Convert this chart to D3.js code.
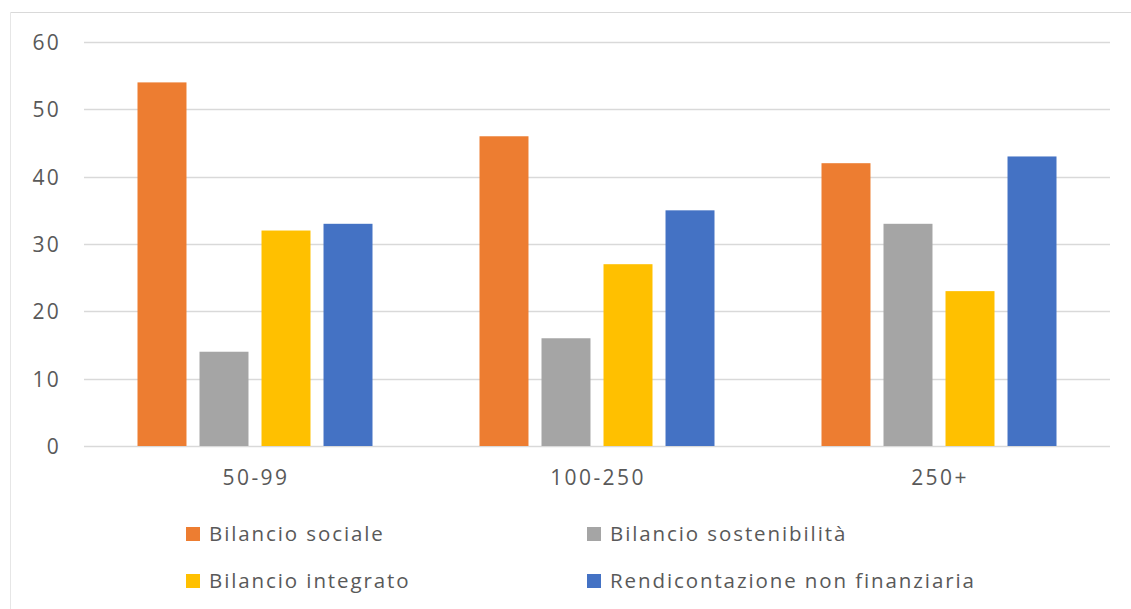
<!DOCTYPE html>
<html>
<head>
<meta charset="utf-8">
<script src="https://cdn.jsdelivr.net/npm/d3@7"></script>
<style>
  html, body { margin: 0; padding: 0; background: #fff; }
  svg { display: block; font-family: "Open Sans", "Noto Sans", sans-serif; }
</style>
</head>
<body>
<svg id="chart" width="1131" height="609"></svg>
<script>
// Company size classes (employees)
const categories = ["50-99", "100-250", "250+"];
const seriesNames = ["Bilancio sociale", "Bilancio sostenibilità", "Bilancio integrato", "Rendicontazione non finanziaria"];
const bilancioSociale = [54, 46, 42];
const bilancioSostenibilita = [14, 16, 33];
const bilancioIntegrato = [32, 27, 23];
const rendicontazioneNonFinanziaria = [33, 35, 43];
const yTicks = [0, 10, 20, 30, 40, 50, 60];
const colors = ["#ED7D31", "#A5A5A5", "#FFC000", "#4472C4"];

const seriesValues = [bilancioSociale, bilancioSostenibilita, bilancioIntegrato, rendicontazioneNonFinanziaria];

const svg = d3.select("#chart");
const textColor = "#595959";
const gridColor = "#D9D9D9";

// Outer frame (top and left edges visible)
svg.append("line").attr("x1", 10.5).attr("x2", 1131).attr("y1", 12.5).attr("y2", 12.5)
  .attr("stroke", "#D9D9D9").attr("stroke-width", 1.2);
svg.append("line").attr("x1", 10.5).attr("x2", 10.5).attr("y1", 12.5).attr("y2", 609)
  .attr("stroke", "#E6E6E6").attr("stroke-width", 1);

const plot = { left: 84, right: 1110, top: 42, bottom: 446 };

const x0 = d3.scaleBand().domain(categories).range([plot.left, plot.right]).paddingInner(0).paddingOuter(0);
const groupInner = 235;
const x1 = d3.scaleBand().domain(seriesNames)
  .range([(x0.bandwidth() - groupInner) / 2, (x0.bandwidth() + groupInner) / 2])
  .paddingInner(0.21).paddingOuter(0);
const y = d3.scaleLinear().domain([0, 60]).range([plot.bottom, plot.top]);

// Horizontal gridlines
svg.append("g").selectAll("line").data(yTicks).join("line")
  .attr("x1", plot.left).attr("x2", plot.right)
  .attr("y1", d => Math.round(y(d)) + 0.5).attr("y2", d => Math.round(y(d)) + 0.5)
  .attr("stroke", gridColor).attr("stroke-width", 1.3);

// Y axis labels
const yAxis = d3.axisLeft(y).tickValues(yTicks).tickSize(0).tickPadding(0);
const gy = svg.append("g").attr("transform", `translate(61,0)`).call(yAxis);
gy.select(".domain").remove();
gy.selectAll("text").attr("fill", textColor).attr("font-size", 21)
  .attr("letter-spacing", 2.2)
  .attr("font-family", "'Open Sans', sans-serif").attr("dy", "0.35em");

// Bars
const groups = svg.append("g").selectAll("g").data(categories).join("g")
  .attr("transform", d => `translate(${x0(d)},0)`);
groups.selectAll("rect")
  .data((c, ci) => seriesNames.map((s, si) => ({ s, si, v: seriesValues[si][ci] })))
  .join("rect")
  .attr("x", d => x1(d.s))
  .attr("width", x1.bandwidth())
  .attr("y", d => y(d.v))
  .attr("height", d => y(0) - y(d.v))
  .attr("fill", d => colors[d.si]);

// X axis labels
const xAxis = d3.axisBottom(x0).tickSize(0).tickPadding(0);
const gx = svg.append("g").attr("transform", `translate(1,478)`).call(xAxis);
gx.select(".domain").remove();
gx.selectAll("text").attr("fill", textColor).attr("font-size", 21)
  .attr("letter-spacing", 2.4)
  .attr("font-family", "'Open Sans', sans-serif").attr("dy", "0.35em");

// Legend in two rows, two columns
const legendPos = [[186, 534], [587, 534], [186, 581], [587, 581]];
const legend = svg.append("g").selectAll("g").data(seriesNames).join("g")
  .attr("transform", (d, i) => `translate(${legendPos[i][0]},${legendPos[i][1]})`);
legend.append("rect").attr("x", 0).attr("y", -7).attr("width", 14).attr("height", 14)
  .attr("fill", (d, i) => colors[i]);
legend.append("text").attr("x", 23).attr("y", 0).attr("dy", "0.35em")
  .attr("fill", textColor).attr("font-size", 20.5)
  .attr("letter-spacing", 1.9)
  .text(d => d);
</script>
</body>
</html>
